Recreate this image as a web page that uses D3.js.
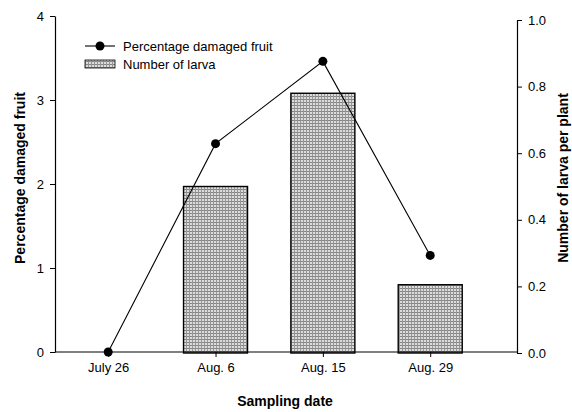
<html lang="en">
<head>
<meta charset="UTF-8">
<title>damaged fruit and larva</title>
<script src="https://cdn.jsdelivr.net/npm/d3@7"></script>
<style>
    body { margin: 0; background: #fff; }
    text { font-family: "Liberation Sans", Arial, sans-serif; fill: #000; }
    .tick text { font-size: 13px; }
    .title { font-size: 14px; font-weight: bold; }
</style>
</head>
<body>
<svg id="chart" width="572" height="412"></svg>
<script>
// data
let dates = ["July 26", "Aug. 6", "Aug. 15", "Aug. 29"];
let damaged = [0, 2.48, 3.46, 1.15];          // percentage damaged fruit (left axis)
let larva = [null, 0.5, 0.78, 0.205];          // number of larva per plant (right axis)
let leftTicks = [0, 1, 2, 3, 4];
let rightTicks = [0, 0.2, 0.4, 0.6, 0.8, 1.0];

let svg = d3.select("#chart");

// stippled fill for bars
let pat = svg.append("defs").append("pattern")
    .attr("id", "dots")
    .attr("width", 3).attr("height", 3)
    .attr("patternUnits", "userSpaceOnUse");
pat.append("rect").attr("width", 3).attr("height", 3).attr("fill", "#dcdcdc");
pat.append("rect").attr("x", 0).attr("y", 0).attr("width", 3).attr("height", 1).attr("fill", "#858585");
pat.append("rect").attr("x", 0).attr("y", 0).attr("width", 1).attr("height", 3).attr("fill", "#959595");

let left = 55, right = 517;

let x = d3.scalePoint().domain(dates).range([left, right]).padding(0.652).align(0.38);
let yL = d3.scaleLinear().domain([0, 4]).range([352, 16]);
let yR = d3.scaleLinear().domain([0, 1]).range([353, 20]);
let barW = 64;

// bars
svg.append("g").selectAll("rect")
    .data(dates.map((d, i) => ({d: d, v: larva[i]})).filter(o => o.v != null))
    .join("rect")
    .attr("x", o => x(o.d) - barW / 2)
    .attr("y", o => yR(o.v))
    .attr("width", barW)
    .attr("height", o => yR(0) - yR(o.v))
    .attr("fill", "url(#dots)")
    .attr("stroke", "#000")
    .attr("stroke-width", 1.4);

// x axis
let xAxis = svg.append("g")
    .attr("transform", "translate(0," + yL(0) + ")")
    .call(d3.axisBottom(x).tickSize(5).tickPadding(6));
xAxis.select(".domain").attr("d", "M" + left + ",0H" + right).attr("stroke-width", 1.2);

// left axis
svg.append("g")
    .attr("transform", "translate(" + left + ",0)")
    .call(d3.axisLeft(yL).tickValues(leftTicks).tickFormat(d3.format("d")).tickSize(5).tickSizeOuter(0).tickPadding(6))
    .select(".domain").attr("stroke-width", 1.2);

// right axis
svg.append("g")
    .attr("transform", "translate(" + right + ",0)")
    .call(d3.axisRight(yR).tickValues(rightTicks).tickFormat(d3.format(".1f")).tickSize(5).tickSizeOuter(0).tickPadding(6))
    .select(".domain").attr("stroke-width", 1.2);

svg.selectAll(".tick text").attr("font-family", null).attr("font-size", null);

// line
let line = d3.line().x((d, i) => x(dates[i])).y(d => yL(d));
svg.append("path")
    .datum(damaged)
    .attr("d", line)
    .attr("fill", "none")
    .attr("stroke", "#000")
    .attr("stroke-width", 1.1);

svg.append("g").selectAll("circle")
    .data(damaged)
    .join("circle")
    .attr("cx", (d, i) => x(dates[i]))
    .attr("cy", d => yL(d))
    .attr("r", 4.5)
    .attr("fill", "#000");

// legend
let lg = svg.append("g").attr("transform", "translate(85,46)");
lg.append("line").attr("x1", 0).attr("x2", 30).attr("y1", 0).attr("y2", 0).attr("stroke", "#000").attr("stroke-width", 1.1);
lg.append("circle").attr("cx", 15).attr("cy", 0).attr("r", 4.5).attr("fill", "#000");
lg.append("text").attr("x", 38).attr("y", 0).attr("dy", "0.35em").style("font-size", "13px").text("Percentage damaged fruit");
lg.append("rect").attr("x", 0).attr("y", 14).attr("width", 30).attr("height", 8)
    .attr("fill", "url(#dots)").attr("stroke", "#000").attr("stroke-width", 0.8);
lg.append("text").attr("x", 38).attr("y", 18).attr("dy", "0.35em").style("font-size", "13px").text("Number of larva");

// titles
svg.append("text").attr("class", "title")
    .attr("text-anchor", "middle")
    .attr("transform", "translate(25,178) rotate(-90)")
    .text("Percentage damaged fruit");
svg.append("text").attr("class", "title")
    .attr("text-anchor", "middle")
    .attr("transform", "translate(568,178) rotate(-90)")
    .text("Number of larva per plant");
svg.append("text").attr("class", "title")
    .attr("text-anchor", "middle")
    .attr("x", 285).attr("y", 406)
    .text("Sampling date");
</script>
</body>
</html>
